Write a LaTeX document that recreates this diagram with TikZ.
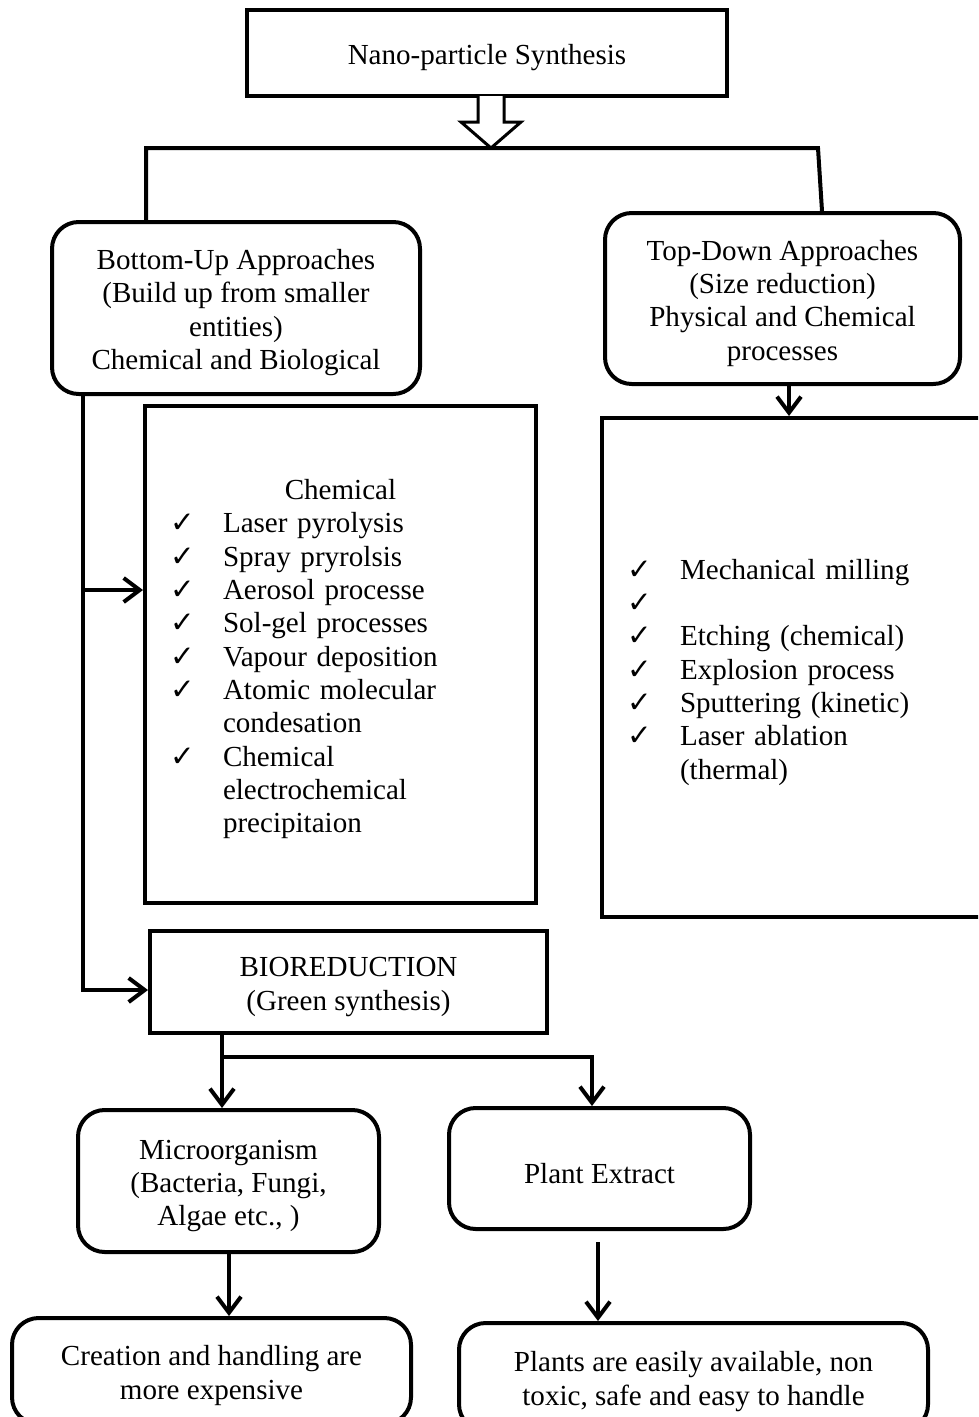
\documentclass[tikz,border=0pt]{standalone}
\usepackage{fontspec}
\setmainfont{Liberation Serif}
\newfontfamily\symfont{DejaVu Sans}
\usetikzlibrary{arrows.meta}
\newcommand{\ck}{\makebox[39.75pt][l]{\symfont\fontsize{22pt}{25pt}\selectfont ✓}}
\newcommand{\ckskip}{\hspace*{39.75pt}}
\newcommand{\topstrut}{\rule{0pt}{22pt}}
\begin{document}
\begin{tikzpicture}[x=0.75pt,y=0.75pt,yscale=-1,xscale=1,
    every node/.style={font=\fontsize{21.8pt}{25pt}\selectfont},
    sqbox/.style={draw,line width=3pt,align=center,inner sep=0pt},
    rndbox/.style={sqbox,rounded corners=20pt},
    listbox/.style={draw,line width=3pt,align=left,inner xsep=18.75pt,inner ysep=0pt},
    conn/.style={line width=3pt},
    arr/.style={conn,-{Straight Barb[length=12pt,width=18pt]}},
    openarr/.style={line width=2.25pt,fill=white}]
    \useasboundingbox (0,0) rectangle (978,1417);
    \clip (0,0) rectangle (978,1417);
    \fill[white] (0,0) rectangle (978,1417);
    %Shape: Rectangle [id:synth]
    \node[sqbox,minimum width=360pt,minimum height=64.5pt] (synth) at (487,53) {\topstrut Nano-particle Synthesis};
    %Shape: Rounded Rect [id:bottomup]
    \node[rndbox,minimum width=276pt,minimum height=129pt] (bottomup) at (236,308) {\topstrut Bottom-Up Approaches\\(Build up from smaller\\entities)\\Chemical and Biological};
    %Shape: Rounded Rect [id:topdown]
    \node[rndbox,minimum width=266.25pt,minimum height=128.25pt] (topdown) at (782.5,298.5) {\topstrut Top-Down Approaches\\(Size reduction)\\Physical and Chemical\\processes};
    %Shape: Rectangle [id:chemlist]
    \node[listbox,text width=255.75pt,minimum height=372.75pt] (chemlist) at (340.5,654.5) {\topstrut\makebox[\hsize]{Chemical}\\
      \ck Laser pyrolysis\\
      \ck Spray pryrolsis\\
      \ck Aerosol processe\\
      \ck Sol-gel processes\\
      \ck Vapour deposition\\
      \ck Atomic molecular\\
      \ckskip condesation\\
      \ck Chemical\\
      \ckskip electrochemical\\
      \ckskip precipitaion};
    %Shape: Rectangle [id:physlist]
    \node[listbox,text width=262.5pt,minimum height=374.25pt] (physlist) at (802,667.5) {\topstrut\ck Mechanical milling\\
      \ck\\
      \ck Etching (chemical)\\
      \ck Explosion process\\
      \ck Sputtering (kinetic)\\
      \ck Laser ablation\\
      \ckskip (thermal)};
    %Shape: Rectangle [id:bioreduction]
    \node[sqbox,minimum width=297.75pt,minimum height=76.5pt] (bioreduction) at (348.5,982) {\topstrut BIOREDUCTION\\(Green synthesis)};
    %Shape: Rounded Rect [id:microbe]
    \node[rndbox,minimum width=225.75pt,minimum height=106.5pt] (microbe) at (228.5,1181) {\topstrut Microorganism\\(Bacteria, Fungi,\\Algae etc., )};
    %Shape: Rounded Rect [id:plant]
    \node[rndbox,minimum width=225.75pt,minimum height=90.75pt] (plant) at (599.5,1168.5) {\topstrut Plant Extract};
    %Shape: Rounded Rect [id:expensive]
    \node[rndbox,minimum width=299.25pt,minimum height=79.5pt] (expensive) at (211.5,1371) {\topstrut Creation and handling are\\more expensive};
    %Shape: Rounded Rect [id:easy]
    \node[rndbox,minimum width=351.75pt,minimum height=81pt] (easy) at (693.5,1377) {\topstrut Plants are easily available, non\\toxic, safe and easy to handle};
    % Connectors
    \coordinate (busL) at (146,148);
    \coordinate (busR) at (818,148);
    \coordinate (trunk) at (83,990);
    \coordinate (branch) at (83,590);
    \coordinate (split) at (222,1057);
    \coordinate (splitR) at (592,1057);
    \coordinate (gap) at (598,1242);
    \draw[conn] (bottomup.north -| busL) -- (busL) -- (busR) -- (topdown.north -| 822,0);
    %Shape: Open Arrow
    \draw[openarr] (478,96) -- (478,122) -- (461,122) -- (491,148) -- (521,122) -- (504,122) -- (504,96);
    \draw[arr] (topdown.south -| 789,0) -- (physlist.north -| 789,0);
    \draw[arr] (bottomup.south -| trunk) -- (trunk) -- (trunk -| bioreduction.west);
    \draw[arr] (branch) -- (branch -| chemlist.west);
    \draw[arr] (bioreduction.south -| split) -- (microbe.north -| split);
    \draw[arr] (split) -- (splitR) -- (plant.north -| splitR);
    \draw[arr] (microbe.south -| 229,0) -- (expensive.north -| 229,0);
    \draw[arr] (gap) -- (easy.north -| gap);
\end{tikzpicture}
\end{document}
